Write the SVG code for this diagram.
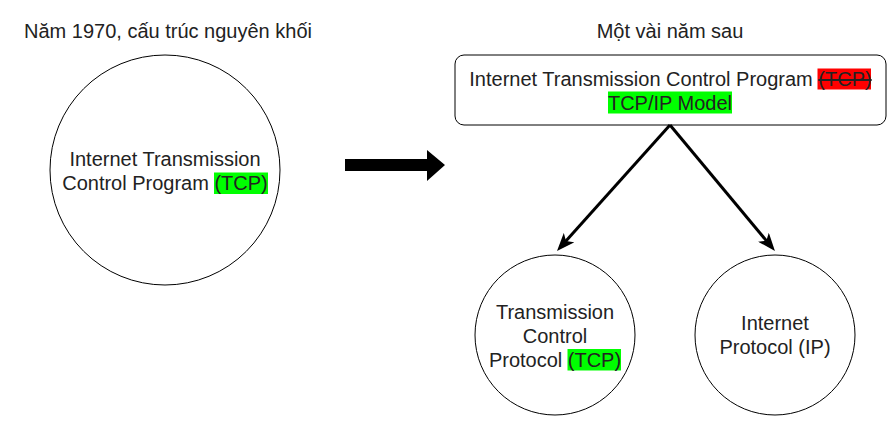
<svg xmlns="http://www.w3.org/2000/svg" width="896" height="426" viewBox="0 0 896 426">
  <defs>
    <style>
      .t { font-family: "Liberation Sans", Arial, sans-serif; font-size: 20px; fill: #222222; text-anchor: middle; }
      .shape { fill: #ffffff; stroke: #000000; stroke-width: 1; }
      .conn { stroke: #000000; stroke-width: 3; fill: none; }
      .hlg { fill: #00ff00; }
      .hlr { fill: #ff0000; }
    </style>
    <marker id="arr" viewBox="0 0 18 14" refX="9" refY="7" markerWidth="18" markerHeight="14" markerUnits="userSpaceOnUse" orient="auto">
      <path d="M0,0 L18,7 L0,14 L4.5,7 Z" fill="#000000"/>
    </marker>
  </defs>
  <rect width="896" height="426" fill="#ffffff"/>

  <g id="title-left">
    <text class="t" x="168" y="38">Năm 1970, cấu trúc nguyên khối</text>
  </g>
  <g id="title-right">
    <text class="t" x="670" y="38">Một vài năm sau</text>
  </g>

  <g id="node-monolith">
    <circle class="shape" cx="165" cy="170" r="115"/>
    <rect class="hlg" x="214" y="172.5" width="54" height="21.5"/>
    <text class="t" x="165" y="166">Internet Transmission</text>
    <text class="t" x="165" y="190">Control Program (TCP)</text>
  </g>

  <g id="big-arrow">
    <polygon points="345,159 427,159 427,150 445,165 427,181 427,171 345,171" fill="#000000"/>
  </g>

  <g id="node-model">
    <rect class="shape" x="455" y="55" width="431" height="70" rx="9" ry="9"/>
    <rect class="hlr" x="817.5" y="68.5" width="53.5" height="21"/>
    <rect class="hlg" x="608" y="91.5" width="124" height="22"/>
    <text class="t" x="670.5" y="86">Internet Transmission Control Program <tspan text-decoration="line-through">(TCP)</tspan></text>
    <text class="t" x="670" y="110">TCP/IP Model</text>
  </g>

  <g id="node-tcp">
    <circle class="shape" cx="555" cy="335" r="80"/>
    <rect class="hlg" x="567.5" y="349" width="53.5" height="21.5"/>
    <text class="t" x="555" y="318.5">Transmission</text>
    <text class="t" x="555" y="342.5">Control</text>
    <text class="t" x="555" y="366.5">Protocol (TCP)</text>
  </g>

  <g id="node-ip">
    <circle class="shape" cx="775" cy="335" r="80"/>
    <text class="t" x="775" y="330">Internet</text>
    <text class="t" x="775" y="354">Protocol (IP)</text>
  </g>

  <g id="connectors">
    <line class="conn" x1="670" y1="125" x2="563" y2="244.3" marker-end="url(#arr)"/>
    <line class="conn" x1="670" y1="125" x2="769.2" y2="244.1" marker-end="url(#arr)"/>
  </g>
</svg>
